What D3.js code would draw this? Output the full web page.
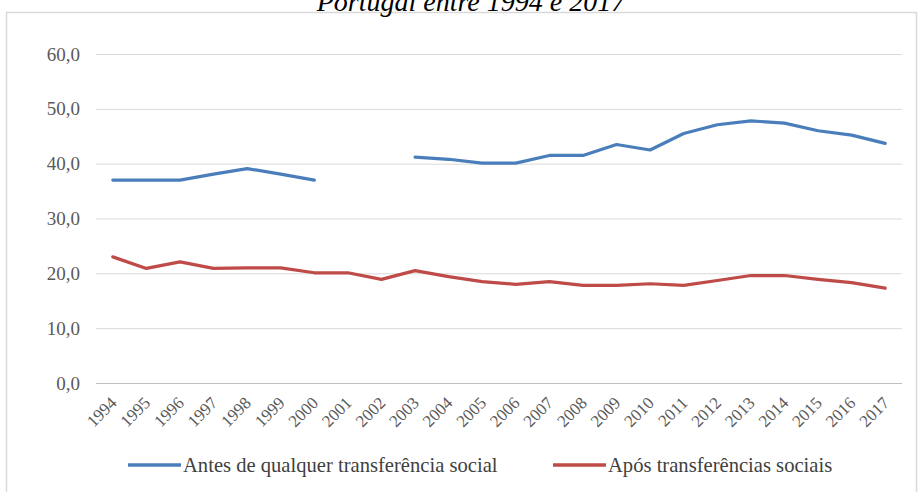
<!DOCTYPE html>
<html><head><meta charset="utf-8">
<script src="https://cdn.jsdelivr.net/npm/d3@7"></script>
<style>
html,body{margin:0;padding:0;background:#fff;}
svg{display:block;}
</style></head>
<body>
<svg id="chart" width="922" height="492"></svg>
<script>
const titleText = "Portugal entre 1994 e 2017";
const years = ["1994","1995","1996","1997","1998","1999","2000","2001","2002","2003","2004","2005","2006","2007","2008","2009","2010","2011","2012","2013","2014","2015","2016","2017"];
const beforeTransfers = [37.0,37.0,37.0,38.1,39.1,38.1,37.0,null,null,41.2,40.8,40.1,40.1,41.5,41.5,43.5,42.5,45.5,47.1,47.8,47.4,46.0,45.2,43.7];
const afterTransfers = [23.0,20.9,22.1,20.9,21.0,21.0,20.1,20.1,18.9,20.5,19.4,18.5,18.0,18.5,17.8,17.8,18.1,17.8,18.7,19.6,19.6,18.9,18.3,17.3];
const yTicks = [0,10,20,30,40,50,60];
const seriesNames = ["Antes de qualquer transferência social","Após transferências sociais"];
const seriesColors = ["#4a7ebb","#be4b48"];

const svg = d3.select("#chart");
const serif = "'Liberation Serif','Times New Roman',serif";

// frame
svg.append("rect").attr("x",6.5).attr("y",12.5).attr("width",910).attr("height",520)
  .attr("fill","#fff").attr("stroke","#d9d9d9").attr("stroke-width",1.5);

// title
svg.append("text").attr("x",471).attr("y",11).attr("text-anchor","middle")
  .attr("font-family",serif).attr("font-style","italic").attr("font-size",28).attr("fill","#000")
  .text(titleText);

const x = d3.scaleBand().domain(years).range([96,902]).padding(0);
const y = d3.scaleLinear().domain([0,60]).range([383,54]);

// y axis with gridlines
const yAxis = d3.axisLeft(y).tickValues(yTicks).tickSize(-(902-96)).tickPadding(16)
  .tickFormat(d => d3.format(".1f")(d).replace(".",","));
const gy = svg.append("g").attr("transform","translate(96,0)").call(yAxis);
gy.select(".domain").remove();
gy.selectAll(".tick line").attr("stroke","#d9d9d9").attr("stroke-width",1);
gy.selectAll(".tick text").attr("font-family",serif).attr("font-size",19).attr("fill","#595959");
gy.selectAll(".tick").filter(d => d===0).select("line").attr("stroke","#bfbfbf");

// x axis
const xAxis = d3.axisBottom(x).tickSize(0).tickPadding(0);
const gx = svg.append("g").attr("transform","translate(0,383)").call(xAxis);
gx.select(".domain").remove();
gx.selectAll(".tick text").attr("font-family",serif).attr("font-size",17).attr("fill","#595959")
  .attr("text-anchor","end").attr("dy",null).attr("y",0)
  .attr("transform","translate(5,21) rotate(-45)");

// lines
const line = d3.line().defined(d => d.v != null).x(d => x(d.year) + x.bandwidth()/2).y(d => y(d.v));
[beforeTransfers, afterTransfers].forEach((vals,i) => {
  const data = years.map((yr,j) => ({year:yr, v:vals[j]}));
  svg.append("path").datum(data).attr("d",line).attr("fill","none")
    .attr("stroke",seriesColors[i]).attr("stroke-width",3.2)
    .attr("stroke-linejoin","round").attr("stroke-linecap","round");
});

// legend
const legendX = [128,553];
seriesNames.forEach((name,i) => {
  const g = svg.append("g").attr("transform",`translate(${legendX[i]},465)`);
  g.append("line").attr("x1",0).attr("x2",53).attr("y1",0).attr("y2",0)
    .attr("stroke",seriesColors[i]).attr("stroke-width",3.6);
  g.append("text").attr("x",55).attr("y",7).attr("font-family",serif).attr("font-size",20.6)
    .attr("fill","#404040").text(name);
});
</script>
</body></html>
